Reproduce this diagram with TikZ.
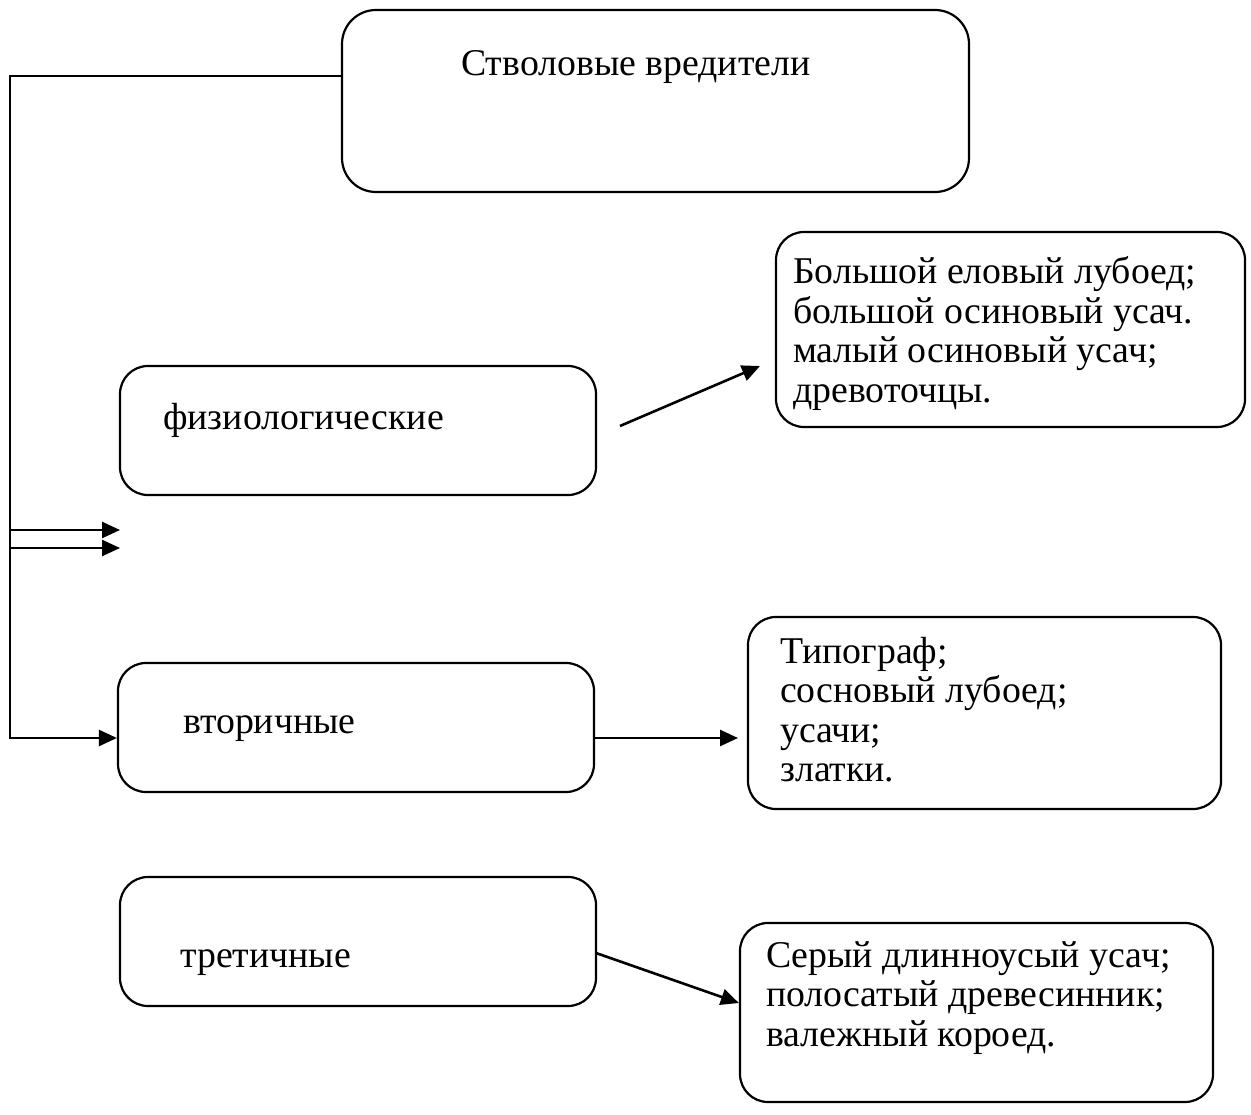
\documentclass[tikz,border=0pt]{standalone}
\usepackage{fontspec}
\setmainfont{Liberation Serif}
\usetikzlibrary{arrows.meta}
\begin{document}
\begin{tikzpicture}[x=1pt,y=-1pt,
  box/.style={draw, line width=2.2pt, rounded corners=28pt, inner sep=0pt},
  lbl/.style={anchor=base west, inner sep=0pt, font=\fontsize{37.8}{39.5}\selectfont},
  conn/.style={line width=2.6pt, -{Triangle[length=18pt,width=16pt]}},
  ]
\useasboundingbox (0,0) rectangle (1251,1115);
% boxes
\node[box, rounded corners=34pt, minimum width=627pt, minimum height=182pt] (top) at (655.5,101) {};
\node[box, minimum width=476pt, minimum height=129pt] (phys) at (358,430.5) {};
\node[box, minimum width=476pt, minimum height=129pt] (sec) at (356,727.5) {};
\node[box, minimum width=476pt, minimum height=129pt] (ter) at (358,941.5) {};
\node[box, minimum width=469pt, minimum height=195pt] (r1) at (1010.5,329.5) {};
\node[box, minimum width=473pt, minimum height=192pt] (r2) at (984.5,713) {};
\node[box, minimum width=473pt, minimum height=179pt] (r3) at (976.5,1012.5) {};
% texts
\node[lbl] (tTop) at (461,76) {Стволовые вредители};
\node[lbl] (tPhys) at (163,429) {физиологические};
\node[lbl] (tSec) at (183,733) {вторичные};
\node[lbl] (tTer) at (180,967) {третичные};
\node[lbl] (tR1) at (793,284) {\begin{tabular}[t]{@{}l@{}}Большой еловый лубоед;\\большой осиновый усач.\\малый осиновый усач;\\древоточцы.\end{tabular}};
\node[lbl] (tR2) at (780,663) {\begin{tabular}[t]{@{}l@{}}Типограф;\\сосновый лубоед;\\усачи;\\златки.\end{tabular}};
\node[lbl] (tR3) at (766,967) {\begin{tabular}[t]{@{}l@{}}Серый длинноусый усач;\\полосатый древесинник;\\валежный короед.\end{tabular}};
% connectors
\coordinate (c1) at (10,76);
\coordinate (c2) at (10,738);
\draw[conn] (top.west |- c1) -- (c1) -- (c2) -- (sec.west |- c2);
\coordinate (a1) at (10,530);
\coordinate (b1) at (120,530);
\coordinate (a2) at (10,548);
\coordinate (b2) at (120,548);
\draw[conn] (a1) -- (b1);
\draw[conn] (a2) -- (b2);
\coordinate (p1) at (620,426);
\coordinate (q1) at (760,366);
\draw[conn] (p1) -- (q1);
\coordinate (q2) at (738,738);
\draw[conn] (sec.east |- q2) -- (q2);
\coordinate (p3) at (596,953);
\draw[conn] (p3) -- (r3.west |- 0,1003);
\end{tikzpicture}
\end{document}
